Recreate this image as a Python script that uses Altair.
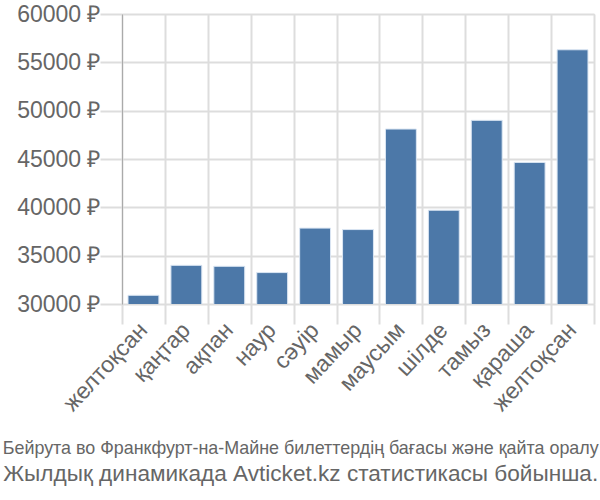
import altair as alt
import pandas as pd

months = ["желтоқсан", "қаңтар", "ақпан", "наур", "сәуір", "мамыр",
          "маусым", "шілде", "тамыз", "қараша", "желтоқсан"]
prices = [30900, 34000, 33900, 33250, 37850, 37700, 48100, 39700, 49000, 44650, 56300]
y_ticks = [30000, 35000, 40000, 45000, 50000, 55000, 60000]
title_line1 = "Бейрута во Франкфурт-на-Майне билеттердің бағасы және қайта оралу"
title_line2 = "Жылдық динамикада Avticket.kz статистикасы бойынша."

df = pd.DataFrame({"idx": list(range(len(months))), "month": months, "price": prices})
edges = pd.DataFrame({"edge": list(range(len(months) + 1)), "price": [30000] * (len(months) + 1)})

label_expr = "[" + ",".join("'" + m + "'" for m in months) + "][datum.value]"

FONT = "Liberation Sans"
TXT = "#666666"
GRID = "#dddddd"

yscale = alt.Scale(domain=[30000, 60000], zero=False, nice=False)

bars = alt.Chart(df).mark_bar(
    color="#4c78a8", stroke="#dbe6f3", strokeWidth=1, clip=True
).encode(
    x=alt.X("idx:O", title=None,
            scale=alt.Scale(paddingInner=0.28, paddingOuter=0.14),
            axis=alt.Axis(labelExpr=label_expr, labelAngle=-47, labelFontSize=23,
                          labelFont=FONT, labelColor=TXT, ticks=False, domain=False,
                          grid=False, labelPadding=22, labelLimit=300, orient="bottom")),
    y=alt.Y("price:Q", title=None, scale=yscale,
            axis=alt.Axis(values=y_ticks, labelExpr="datum.value + ' ₽'",
                          labelFontSize=23, labelFont=FONT, labelColor=TXT,
                          tickSize=22, tickColor=GRID, gridColor=GRID, grid=True,
                          domainColor="#aaaaaa", labelPadding=0, tickWidth=2, gridWidth=2)),
)

grid_layer = alt.Chart(edges).mark_point(opacity=0).encode(
    x=alt.X("edge:Q", title=None,
            scale=alt.Scale(domain=[0, len(months)], nice=False, zero=False),
            axis=alt.Axis(values=list(range(len(months) + 1)), labels=False,
                          grid=True, gridColor=GRID, gridWidth=2,
                          ticks=True, tickSize=20, tickColor=GRID, tickWidth=2,
                          domain=False, orient="bottom")),
    y=alt.Y("price:Q", scale=yscale),
)

chart = alt.layer(grid_layer, bars).resolve_scale(x="independent").resolve_axis(x="independent").properties(
    width=472, height=290,
    autosize=alt.AutoSizeParams(type="none"),
    padding={"left": 122, "top": 14, "right": 6, "bottom": 196},
    title=alt.TitleParams(
        text=title_line1, subtitle=title_line2, orient="bottom", anchor="middle",
        frame="bounds", font=FONT, fontSize=17.9, fontWeight="normal",
        color=TXT, subtitleFont=FONT, subtitleFontSize=22.6, subtitleColor=TXT,
        subtitlePadding=5, offset=25, dx=-6,
    ),
).configure_view(stroke=None).configure(background="white")

chart.save("out.html", embed_options={"renderer": "svg", "actions": False})
